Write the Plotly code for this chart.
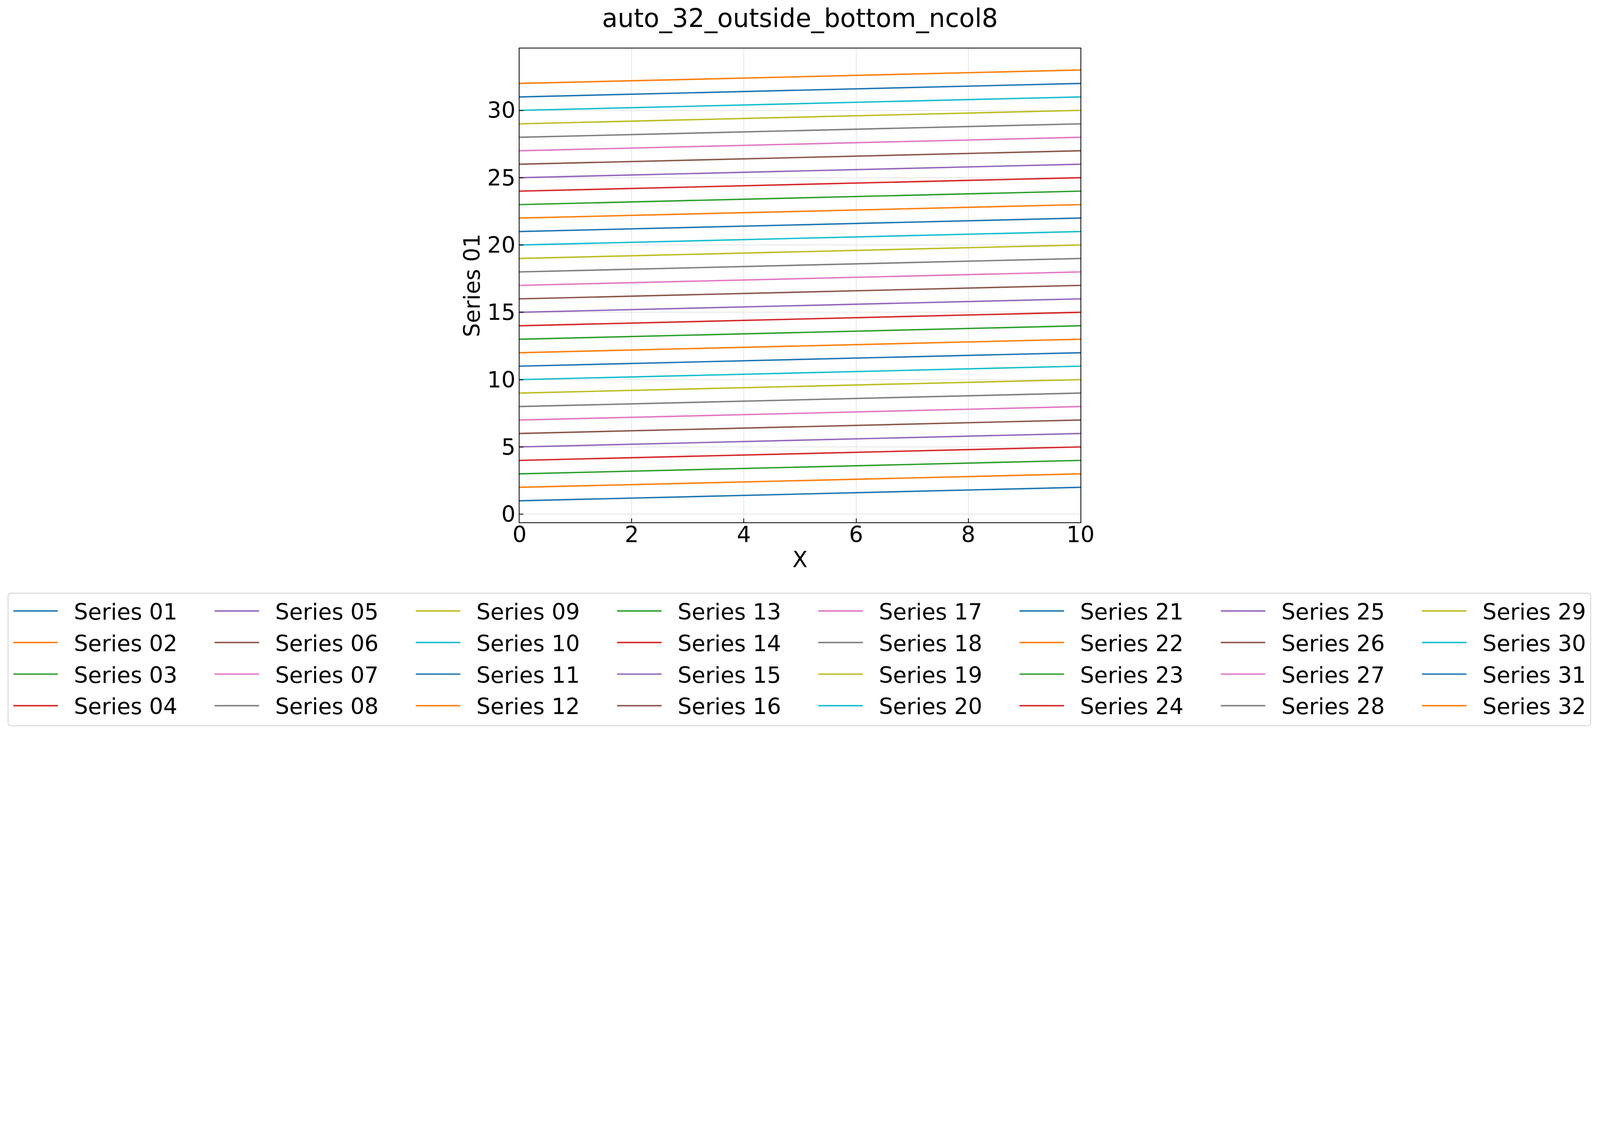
import plotly.graph_objects as go

# ---- data ----
x_values = [0, 10]
series_names = [f"Series {i:02d}" for i in range(1, 33)]
series_start = [1, 2, 3, 4, 5, 6, 7, 8, 9, 10, 11, 12, 13, 14, 15, 16,
                17, 18, 19, 20, 21, 22, 23, 24, 25, 26, 27, 28, 29, 30, 31, 32]
series_end = [2, 3, 4, 5, 6, 7, 8, 9, 10, 11, 12, 13, 14, 15, 16, 17,
              18, 19, 20, 21, 22, 23, 24, 25, 26, 27, 28, 29, 30, 31, 32, 33]
x_ticks = [0, 2, 4, 6, 8, 10]
y_ticks = [0, 5, 10, 15, 20, 25, 30]
palette = ["#1f77b4", "#ff7f0e", "#2ca02c", "#d62728", "#9467bd",
           "#8c564b", "#e377c2", "#7f7f7f", "#bcbd22", "#17becf"]

# the visible page is 4096 CSS px wide; scale the 6275-px design to fit it
DPR, BODY = 6275 / 4096, 8
W = round(6275 / DPR) - 2 * BODY
H = round(2872 / DPR) - 2 * BODY
# plot-area corners in reference pixels
L_dev, R_dev, T_dev, B_dev = 2037, 4238, 190, 2048


def css(d):
    return d / DPR


def to_css_pos(d):
    return d / DPR - BODY


def px_x(d):
    return (d - L_dev) / (R_dev - L_dev)


def px_y(d):
    return (B_dev - d) / (B_dev - T_dev)


l_m = to_css_pos(L_dev)
r_m = W - to_css_pos(R_dev)
t_m = to_css_pos(T_dev)
b_m = H - to_css_pos(B_dev)

FONT = "DejaVu Sans"
FS = css(87)
NB = "\u00a0\u00a0"

fig = go.Figure()
n_rows, n_cols = 4, 8
for k, name in enumerate(series_names):
    col = k // n_rows
    lg = "legend" if col == 0 else f"legend{col + 1}"
    fig.add_trace(go.Scatter(
        x=x_values, y=[series_start[k], series_end[k]], mode="lines", name=NB + name,
        line=dict(color=palette[k % 10], width=css(5.6)),
        legend=lg, legendgroup=name,
    ))

col_x0 = 60
col_pitch = 789.6
legend_top_dev = 2329
item_offset_css = 11
layout_legends = {}
for c in range(n_cols):
    key = "legend" if c == 0 else f"legend{c + 1}"
    layout_legends[key] = dict(
        x=px_x(col_x0 + col_pitch * c - item_offset_css * DPR), xanchor="left",
        y=px_y(legend_top_dev), yanchor="top",
        orientation="v", bgcolor="rgba(0,0,0,0)", borderwidth=0,
        font=dict(family=FONT, size=FS, color="black"),
        itemwidth=114, tracegroupgap=4, traceorder="grouped",
    )

# legend frame (rounded)
bx0, bx1, by0, by1, rr = 30, 6240, 2326, 2846, 13
path = (f"M{px_x(bx0 + rr)},{px_y(by0)} L{px_x(bx1 - rr)},{px_y(by0)} "
        f"Q{px_x(bx1)},{px_y(by0)} {px_x(bx1)},{px_y(by0 + rr)} "
        f"L{px_x(bx1)},{px_y(by1 - rr)} Q{px_x(bx1)},{px_y(by1)} {px_x(bx1 - rr)},{px_y(by1)} "
        f"L{px_x(bx0 + rr)},{px_y(by1)} Q{px_x(bx0)},{px_y(by1)} {px_x(bx0)},{px_y(by1 - rr)} "
        f"L{px_x(bx0)},{px_y(by0 + rr)} Q{px_x(bx0)},{px_y(by0)} {px_x(bx0 + rr)},{px_y(by0)} Z")

fig.update_layout(
    width=W, height=H,
    margin=dict(l=l_m, r=r_m, t=t_m, b=b_m, pad=0, autoexpand=False),
    paper_bgcolor="white", plot_bgcolor="white",
    font=dict(family=FONT, size=FS, color="black"),
    title=dict(text="auto_32_outside_bottom_ncol8", x=0.5, xanchor="center",
               y=1 - 15 / H, yanchor="top", yref="container",
               font=dict(family=FONT, size=css(100), color="black")),
    shapes=[dict(type="path", path=path, xref="paper", yref="paper",
                 line=dict(color="#d6d6d6", width=css(3.5)), fillcolor="rgba(255,255,255,0.8)",
                 layer="below")],
    **layout_legends,
)
axis_common = dict(
    ticks="inside", ticklen=css(15), tickwidth=css(2.6), tickcolor="black",
    showline=True, linecolor="black", linewidth=css(3.3), mirror=True,
    showgrid=True, gridcolor="#e6e6e6", gridwidth=css(3), zeroline=False,
    tickfont=dict(family=FONT, size=FS, color="black"),
)
fig.update_xaxes(
    range=[0, 10], tickvals=x_ticks, ticklabelstandoff=-19, **axis_common,
    title=dict(text="X", font=dict(family=FONT, size=FS, color="black"), standoff=12),
)
fig.update_yaxes(
    range=[-0.6, 34.6], tickvals=y_ticks, ticklabelstandoff=-3, **axis_common,
    title=dict(text="Series 01", font=dict(family=FONT, size=FS, color="black"), standoff=0),
)

fig.write_html("out.html")
